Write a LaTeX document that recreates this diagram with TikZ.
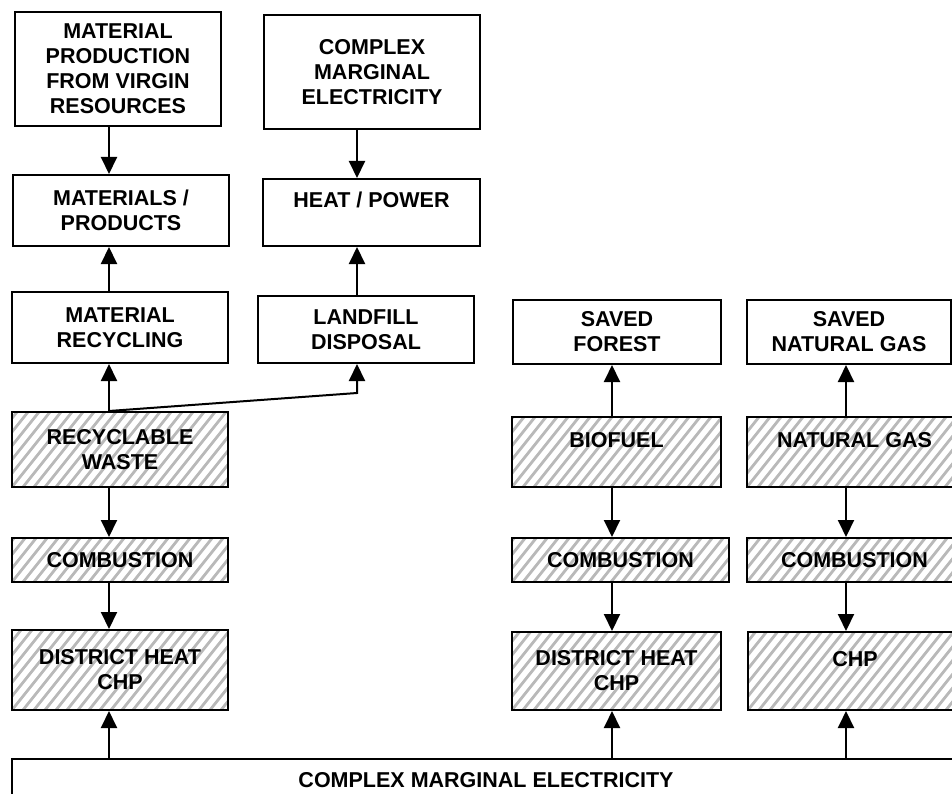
\documentclass[tikz,border=0pt]{standalone}
\usepackage{fontspec}
\setmainfont{Liberation Sans}
\usepackage{tikz}
\usetikzlibrary{arrows.meta,calc}
\definecolor{hatchgray}{RGB}{185,185,185}

\begin{document}
\begin{tikzpicture}[x=1pt,y=-1pt,
    box/.style={draw,line width=2pt,align=center,inner sep=0pt,
        font=\fontsize{21.5}{25}\selectfont\bfseries},
    hatched/.style={box,path picture={
        \foreach \k in {-10,...,24}
            \draw[hatchgray,line width=2.8pt]
                ([xshift=\k*11pt]path picture bounding box.south west) -- ++(100pt,125pt);
    }},
    arr/.style={line width=2pt,-{Triangle[length=17pt,width=16pt]}}]
    \clip (0,0) rectangle (952,794);
    % x positions of the arrows
    \coordinate (c1) at (109,0);
    \coordinate (c2) at (357,0);
    \coordinate (c3) at (612,0);
    \coordinate (c4) at (846,0);
    \coordinate (K) at (357,393);
    % top rows
    \node[box,minimum width=206pt,minimum height=114pt] (V) at (118,69) {MATERIAL\\PRODUCTION\\FROM VIRGIN\\RESOURCES};
    \node[box,minimum width=216pt,minimum height=114pt] (E) at (372,72) {COMPLEX\\MARGINAL\\ELECTRICITY};
    \node[box,minimum width=216pt,minimum height=71pt] (P) at (121,210.5) {MATERIALS /\\PRODUCTS};
    \node[box,minimum width=217pt,minimum height=67pt] (H) at (371.5,212.5) {HEAT / POWER\\\mbox{}};
    \node[box,minimum width=216pt,minimum height=71pt] (R) at (120,327.5) {MATERIAL\\RECYCLING};
    \node[box,minimum width=216pt,minimum height=67pt] (L) at (366,329.5) {LANDFILL\\DISPOSAL};
    \node[box,minimum width=208pt,minimum height=64pt] (F) at (617,332) {SAVED\\FOREST};
    \node[box,minimum width=204pt,minimum height=64pt] (S) at (849,332) {SAVED\\NATURAL GAS};
    % fuels
    \node[hatched,minimum width=216pt,minimum height=75pt] (W) at (120,449.5) {RECYCLABLE\\WASTE};
    \node[hatched,minimum width=209pt,minimum height=70pt] (B) at (616.5,452) {BIOFUEL\\\mbox{}};
    \node[hatched,minimum width=215pt,minimum height=70pt] (N) at (854.5,452) {NATURAL GAS\\\mbox{}};
    \node[hatched,minimum width=216pt,minimum height=44pt] (C1) at (120,560) {COMBUSTION};
    \node[hatched,minimum width=217pt,minimum height=44pt] (C2) at (620.5,560) {COMBUSTION};
    \node[hatched,minimum width=215pt,minimum height=44pt] (C3) at (854.5,560) {COMBUSTION};
    \node[hatched,minimum width=216pt,minimum height=80pt] (D1) at (120,670) {DISTRICT HEAT\\CHP};
    \node[hatched,minimum width=209pt,minimum height=78pt] (D2) at (616.5,671) {DISTRICT HEAT\\CHP};
    \node[hatched,minimum width=214pt,minimum height=78pt] (D3) at (855,671) {CHP\\\mbox{}};
    \node[box,minimum width=948pt,minimum height=42pt] (M) at (486,780) {COMPLEX MARGINAL ELECTRICITY};
    % arrows
    \draw[arr] (V.south -| c1) -- (P.north -| c1);
    \draw[arr] (E.south -| c2) -- (H.north -| c2);
    \draw[arr] (R.north -| c1) -- (P.south -| c1);
    \draw[arr] (L.north -| c2) -- (H.south -| c2);
    \draw[arr] (W.north -| c1) -- (R.south -| c1);
    \draw[arr] (W.north -| c1) -- (K) -- (L.south -| c2);
    \draw[arr] (B.north -| c3) -- (F.south -| c3);
    \draw[arr] (N.north -| c4) -- (S.south -| c4);
    \draw[arr] (W.south -| c1) -- (C1.north -| c1);
    \draw[arr] (C1.south -| c1) -- (D1.north -| c1);
    \draw[arr] (B.south -| c3) -- (C2.north -| c3);
    \draw[arr] (C2.south -| c3) -- (D2.north -| c3);
    \draw[arr] (N.south -| c4) -- (C3.north -| c4);
    \draw[arr] (C3.south -| c4) -- (D3.north -| c4);
    \draw[arr] (M.north -| c1) -- (D1.south -| c1);
    \draw[arr] (M.north -| c3) -- (D2.south -| c3);
    \draw[arr] (M.north -| c4) -- (D3.south -| c4);
\end{tikzpicture}
\end{document}
